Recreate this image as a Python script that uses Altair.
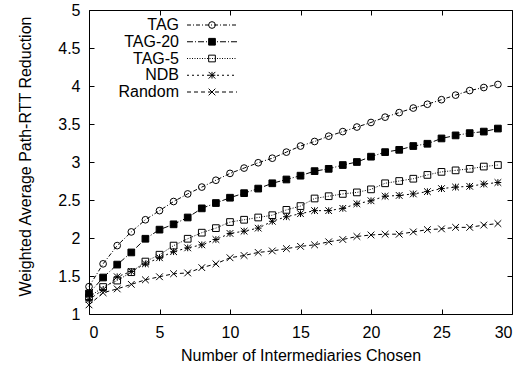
import altair as alt
import pandas as pd

series = ["TAG", "TAG-20", "TAG-5", "NDB", "Random"]
xs = list(range(30))
tag = [1.36, 1.66, 1.90, 2.08, 2.24, 2.36, 2.48, 2.58, 2.67, 2.76, 2.85, 2.92, 2.99, 3.05, 3.13,
       3.21, 3.27, 3.34, 3.40, 3.46, 3.52, 3.59, 3.65, 3.71, 3.76, 3.82, 3.88, 3.94, 3.98, 4.02]
tag20 = [1.27, 1.48, 1.65, 1.81, 1.99, 2.11, 2.18, 2.27, 2.39, 2.46, 2.53, 2.59, 2.65, 2.72, 2.77,
         2.82, 2.88, 2.91, 2.96, 3.00, 3.07, 3.13, 3.16, 3.21, 3.24, 3.31, 3.35, 3.38, 3.40, 3.44]
tag5 = [1.22, 1.355, 1.44, 1.55, 1.69, 1.78, 1.90, 1.99, 2.07, 2.13, 2.21, 2.24, 2.27, 2.30, 2.37,
        2.42, 2.52, 2.55, 2.58, 2.60, 2.64, 2.72, 2.75, 2.78, 2.83, 2.87, 2.89, 2.91, 2.94, 2.96]
ndb = [1.19, 1.32, 1.49, 1.56, 1.66, 1.74, 1.82, 1.87, 1.91, 1.98, 2.06, 2.09, 2.13, 2.22, 2.28,
       2.32, 2.36, 2.36, 2.39, 2.45, 2.49, 2.55, 2.56, 2.58, 2.61, 2.65, 2.67, 2.68, 2.71, 2.73]
rnd = [1.12, 1.28, 1.33, 1.39, 1.45, 1.49, 1.53, 1.54, 1.61, 1.66, 1.74, 1.77, 1.81, 1.83, 1.86,
       1.89, 1.91, 1.95, 1.98, 2.02, 2.04, 2.05, 2.05, 2.08, 2.11, 2.12, 2.14, 2.14, 2.17, 2.19]
x_ticks = [0, 5, 10, 15, 20, 25, 30]
y_ticks = [1, 1.5, 2, 2.5, 3, 3.5, 4, 4.5, 5]

rows = []
for name, vals in zip(series, [tag, tag20, tag5, ndb, rnd]):
    for x, v in zip(xs, vals):
        rows.append({"series": name, "x": x, "v": v})
df = pd.DataFrame(rows)
legend_df = pd.DataFrame({"series": series})

W, H = 423, 304
FONT = "Liberation Sans"
FS = 16
ASTER = "M-1,-1L1,1M-1,1L1,-1M-1,0L1,0M0,-1L0,1"
XPATH = "M-1,-1L1,1M-1,1L1,-1"
dashes = [[4, 2, 1, 2], [6, 2, 1, 2], [1, 1.5], [2, 3], [4, 3]]
shapes = ["circle", "square", "square", ASTER, XPATH]
fills = ["transparent", "black", "transparent", "transparent", "transparent"]

xscale = alt.Scale(domain=[0, 30], nice=False, zero=False)
yscale = alt.Scale(domain=[1, 5], nice=False, zero=False)
dash_enc = alt.StrokeDash("series:N", scale=alt.Scale(domain=series, range=dashes), legend=None)
shape_enc = alt.Shape("series:N", scale=alt.Scale(domain=series, range=shapes), legend=None)
fill_enc = alt.Fill("series:N", scale=alt.Scale(domain=series, range=fills), legend=None)

fonts = dict(labelFont=FONT, labelFontSize=FS, labelColor="black",
             titleFont=FONT, titleFontSize=FS, titleFontWeight="normal", titleColor="black")
tick_style = dict(ticks=True, tickSize=5, tickColor="black", tickWidth=1, labels=False,
                  domain=False, grid=False, title=None)

x_main = alt.X("x:Q", scale=xscale, axis=alt.Axis(
    orient="bottom", values=x_ticks, ticks=False, domain=False, grid=False, labelPadding=10,
    title="Number of Intermediaries Chosen", titlePadding=7, **fonts))
y_main = alt.Y("v:Q", scale=yscale, axis=alt.Axis(
    orient="left", values=y_ticks, format="~g", ticks=False, domain=False, grid=False,
    labelPadding=9, title="Weighted Average Path-RTT Reduction", titlePadding=24,
    titleY=146, **fonts))

x_in_bottom = alt.X("x:Q", scale=xscale, axis=alt.Axis(orient="top", offset=-H, values=x_ticks, **tick_style))
y_in_left = alt.Y("v:Q", scale=yscale, axis=alt.Axis(orient="right", offset=-W, values=y_ticks, **tick_style))
x_in_top = alt.X("x:Q", scale=xscale, axis=alt.Axis(orient="bottom", offset=-H, values=x_ticks, **tick_style))
y_in_right = alt.Y("v:Q", scale=yscale, axis=alt.Axis(orient="left", offset=-W, values=y_ticks, **tick_style))

base = alt.Chart(df)
lines = base.mark_line(color="black", strokeWidth=1).encode(
    x=x_main, y=y_main, detail="series:N", strokeDash=dash_enc)

pt_mark = dict(stroke="black", strokeWidth=1, opacity=1, size=45)
pts_a = base.transform_filter(
    alt.FieldOneOfPredicate(field="series", oneOf=series[:3])
).mark_point(**pt_mark).encode(x=x_in_bottom, y=y_in_left, shape=shape_enc, fill=fill_enc)
pts_b = base.transform_filter(
    alt.FieldOneOfPredicate(field="series", oneOf=series[3:])
).mark_point(**pt_mark).encode(x=x_in_top, y=y_in_right, shape=shape_enc, fill=fill_enc)

legend_y = alt.Y("series:N", scale=alt.Scale(type="point", domain=series, range=[15, 82], padding=0), axis=None)
lbase = alt.Chart(legend_df)
leg_text = lbase.mark_text(align="right", baseline="middle", font=FONT, fontSize=FS, color="black").encode(
    x=alt.value(90), y=legend_y, text="series:N")
leg_rule = lbase.mark_rule(color="black", strokeWidth=1).encode(
    x=alt.value(98), x2=alt.value(148), y=legend_y, strokeDash=dash_enc)
leg_pt = lbase.mark_point(**pt_mark).encode(
    x=alt.value(123), y=legend_y, shape=shape_enc, fill=fill_enc)

chart = alt.layer(lines, pts_a, pts_b, leg_rule, leg_pt, leg_text).resolve_scale(
    y="independent"
).resolve_axis(x="independent", y="independent").properties(
    width=W, height=H,
    autosize=alt.AutoSizeParams(type="none"),
    padding={"left": 89, "top": 10, "right": 18, "bottom": 59},
    background="white",
).configure_view(stroke="black", strokeWidth=1)

chart.save("out.html", embed_options={"renderer": "svg", "actions": False})
